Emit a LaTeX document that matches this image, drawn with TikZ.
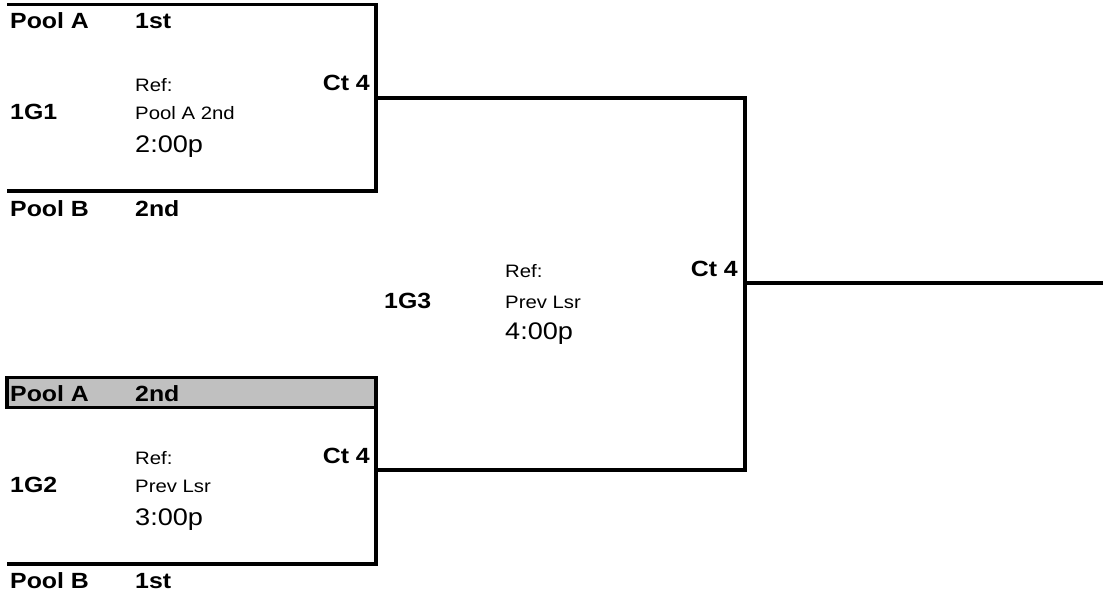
\documentclass[tikz,border=0pt]{standalone}
\usepackage{fontspec}
\setmainfont{Liberation Sans}[FakeStretch=1.13]
\usetikzlibrary{positioning}
\definecolor{hdrgray}{RGB}{192,192,192}
\tikzset{
  team/.style={anchor=base west, inner sep=0pt, font=\bfseries\fontsize{22}{22}\selectfont},
  court/.style={anchor=base east, inner sep=0pt, font=\bfseries\fontsize{22}{22}\selectfont},
  refnote/.style={anchor=base west, inner sep=0pt, font=\fontsize{18}{18}\selectfont},
  slot/.style={anchor=base west, inner sep=0pt, font=\fontsize{24}{24}\selectfont},
  wire/.style={line width=3.2pt},
  hdr/.style={wire, fill=hdrgray}
}
\begin{document}
\begin{tikzpicture}[x=1pt,y=-1pt]
	\useasboundingbox (0,0) rectangle (1103,592);
	% game 1
	\draw[wire] (7,4.5) -| (376,191) -- (7,191);
	\node[team] (g1a) at (10,28) {Pool A};
	\node[team] (g1as) at (135,28) {1st};
	\node[refnote] (g1ref) at (135,91) {Ref:};
	\node[court] (g1ct) at (370,90) {Ct 4};
	\node[team] (g1) at (10,119) {1G1};
	\node[refnote] (g1who) at (135,119) {Pool A 2nd};
	\node[slot] (g1time) at (135,152) {2:00p};
	\node[team] (g1b) at (10,216) {Pool B};
	\node[team] (g1bs) at (135,216) {2nd};
	% game 2
	\draw[hdr] (7,377.5) rectangle (376,407.5);
	\draw[wire] (376,377.5) -- (376,564) -- (7,564);
	\node[team] (g2a) at (10,401) {Pool A};
	\node[team] (g2as) at (135,401) {2nd};
	\node[refnote] (g2ref) at (135,464) {Ref:};
	\node[court] (g2ct) at (370,463) {Ct 4};
	\node[team] (g2) at (10,492) {1G2};
	\node[refnote] (g2who) at (135,492) {Prev Lsr};
	\node[slot] (g2time) at (135,525) {3:00p};
	\node[team] (g2b) at (10,588) {Pool B};
	\node[team] (g2bs) at (135,588) {1st};
	% game 3
	\node[team] (g3) at (384,308) {1G3};
	\node[refnote] (g3ref) at (505,277) {Ref:};
	\node[court] (g3ct) at (738,276) {Ct 4};
	\node[refnote] (g3who) at (505,308) {Prev Lsr};
	\node[slot] (g3time) at (505,339) {4:00p};
	% bracket lines
	\coordinate (g1out) at (376,98);
	\coordinate (g2out) at (376,470);
	\coordinate (g3top) at (745,98);
	\coordinate (g3bot) at (745,470);
	\coordinate (g3out) at (745,283);
	\coordinate (final) at (1103,283);
	\draw[wire] (g1out) -- (g3top) -- (g3bot) -- (g2out);
	\draw[wire] (g3out) -- (final);
\end{tikzpicture}
\end{document}
